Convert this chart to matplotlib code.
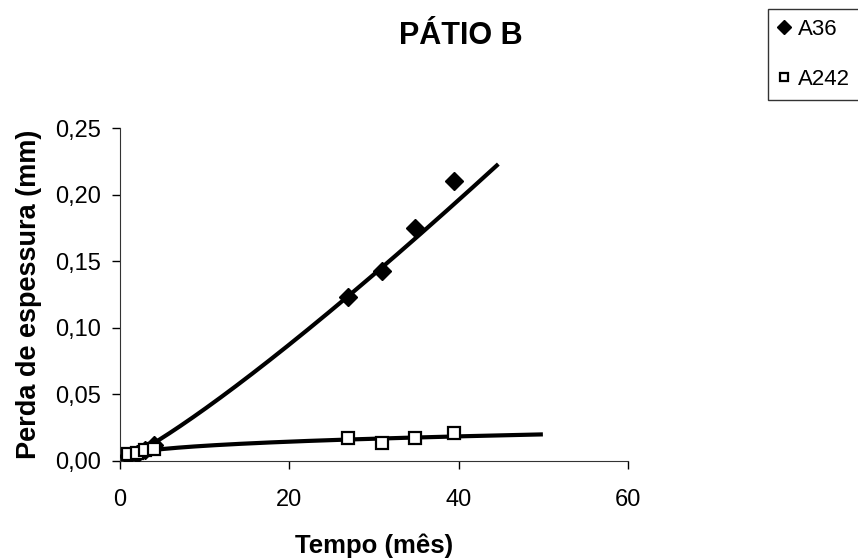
import numpy as np
import matplotlib.pyplot as plt
from matplotlib.ticker import FuncFormatter

plt.rcParams['font.family'] = ['Liberation Sans', 'DejaVu Sans']

# tempo de exposição (meses) e perda de espessura (mm)
tempo = [1, 2, 3, 4, 26.9, 30.9, 34.9, 39.4]
a36 = [0.0035, 0.0055, 0.008, 0.012, 0.123, 0.143, 0.175, 0.210]
a242 = [0.005, 0.006, 0.008, 0.009, 0.0175, 0.0137, 0.017, 0.0208]

t = np.array(tempo)

fig = plt.figure(figsize=(8.58, 5.59), dpi=100)
ax = fig.add_axes([120/858, 1-461/559, 508/858, 333/559])


def power_trend(x, y, x_new):
    # ajuste potência y = a*x^b (regressão em log-log)
    b, ln_a = np.polyfit(np.log(x), np.log(y), 1)
    return np.exp(ln_a) * x_new ** b


x1 = np.linspace(1, 44.5, 200)
ax.plot(x1, power_trend(t, a36, x1), color='black', lw=3, zorder=2)
x2 = np.linspace(1, 49.7, 200)
ax.plot(x2, power_trend(t, a242, x2), color='black', lw=3, zorder=2)

ax.plot(tempo, a36, 'D', color='black', ms=9, ls='none', label='A36', zorder=3)
ax.plot(tempo, a242, 's', mfc='white', mec='black', mew=1.6, ms=8, ls='none',
        label='A242', zorder=3)

ax.set_xlim(0, 60)
ax.set_ylim(0, 0.25)
ax.set_xticks([0, 20, 40, 60])
ax.set_yticks(np.arange(0, 0.26, 0.05))
ax.yaxis.set_major_formatter(FuncFormatter(lambda v, p: f'{v:.2f}'.replace('.', ',')))
ax.tick_params(labelsize=17, direction='out', length=6, width=1)
ax.tick_params(axis='x', pad=14)
ax.tick_params(axis='y', pad=8)

ax.spines['top'].set_visible(False)
ax.spines['right'].set_visible(False)
ax.spines['left'].set_color('#333333')
ax.spines['bottom'].set_color('#333333')

ax.set_xlabel('Tempo (mês)', fontsize=18.5, fontweight='bold', labelpad=16)
ax.set_ylabel('Perda de espessura (mm)', fontsize=19.5, fontweight='bold', labelpad=9)
fig.text(461/858, 1-36/559, 'PÁTIO B', fontsize=22, fontweight='bold',
         ha='center', va='center')

leg = fig.legend(loc='upper left', bbox_to_anchor=(768/858, 1-9/559),
                 fontsize=16, frameon=True, fancybox=False, handlelength=0.5,
                 handletextpad=0.4, borderpad=0.45, labelspacing=1.3,
                 markerscale=0.8, borderaxespad=0)
leg.get_frame().set_edgecolor('black')
leg.get_frame().set_linewidth(1)

fig.savefig('out.png', dpi=100)
